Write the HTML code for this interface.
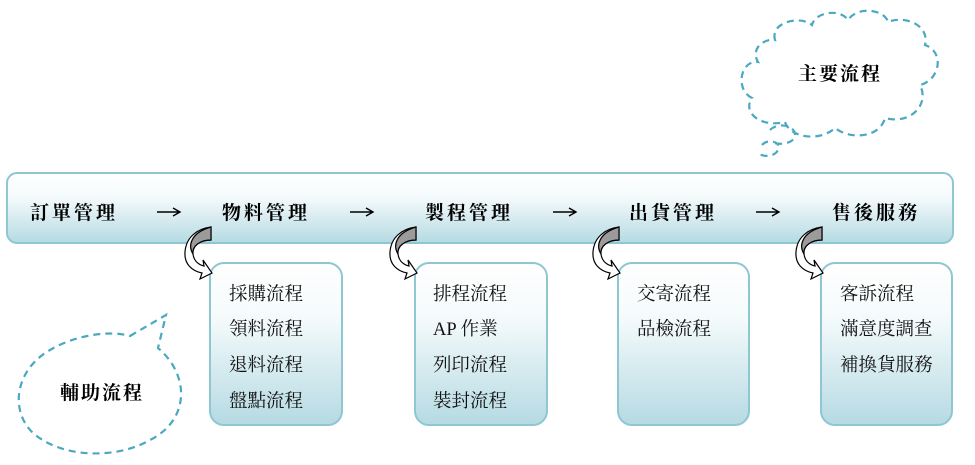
<!DOCTYPE html>
<html><head><meta charset="utf-8"><style>
body{margin:0;background:#fff;width:975px;height:465px;overflow:hidden}
svg{display:block}
text{font-family:"Liberation Serif","Noto Serif CJK TC","Noto Serif CJK SC",serif}
.m{font-size:19px;font-weight:bold;fill:#000}
.s{font-size:18.5px;fill:#111}
</style></head><body>
<svg width="975" height="465" viewBox="0 0 975 465">
<defs>
<linearGradient id="g" x1="0" y1="0" x2="0" y2="1">
<stop offset="0" stop-color="#ffffff"/><stop offset="0.35" stop-color="#f4fafb"/><stop offset="1" stop-color="#b5dae3"/>
</linearGradient>
<g id="ar"><path d="M0,0 H22 M16,-4 L23,0 L16,4" fill="none" stroke="#000" stroke-width="1.4"/></g>
</defs>
<rect x="7" y="173" width="946" height="70" rx="10" fill="url(#g)" stroke="#8ec6d2" stroke-width="2"/>
<text x="74" y="219" text-anchor="middle" class="m" letter-spacing="3">訂單管理</text>
<use href="#ar" x="157" y="212"/>
<text x="266" y="219" text-anchor="middle" class="m" letter-spacing="3">物料管理</text>
<use href="#ar" x="350" y="212"/>
<text x="469" y="219" text-anchor="middle" class="m" letter-spacing="3">製程管理</text>
<use href="#ar" x="553" y="212"/>
<text x="673" y="219" text-anchor="middle" class="m" letter-spacing="3">出貨管理</text>
<use href="#ar" x="756" y="212"/>
<text x="876" y="219" text-anchor="middle" class="m" letter-spacing="3">售後服務</text>
<g>
<rect x="210" y="263" width="132" height="162" rx="14" fill="url(#g)" stroke="#8ec6d2" stroke-width="2"/>
<rect x="415" y="263" width="132" height="162" rx="14" fill="url(#g)" stroke="#8ec6d2" stroke-width="2"/>
<rect x="618" y="263" width="131" height="162" rx="14" fill="url(#g)" stroke="#8ec6d2" stroke-width="2"/>
<rect x="821" y="263" width="131" height="162" rx="14" fill="url(#g)" stroke="#8ec6d2" stroke-width="2"/>
</g>
<text x="229" y="300" class="s">採購流程</text><text x="229" y="335" class="s">領料流程</text><text x="229" y="371" class="s">退料流程</text><text x="229" y="407" class="s">盤點流程</text>
<text x="433" y="300" class="s">排程流程</text><text x="433" y="335" class="s">AP 作業</text><text x="433" y="371" class="s">列印流程</text><text x="433" y="407" class="s">裝封流程</text>
<text x="637" y="300" class="s">交寄流程</text><text x="637" y="335" class="s">品檢流程</text>
<text x="840" y="300" class="s">客訴流程</text><text x="840" y="335" class="s">滿意度調查</text><text x="840" y="371" class="s">補換貨服務</text>
<g id="ca">
<path d="M211,227 L211,240 C200,240 192,246 193,254 C194,262 200,265 204,266 L203,260 L212,273 L200,279 L202,273 C192,271 184,264 185,252 C186,238 196,229 211,227 Z" fill="#fff" stroke="#000" stroke-width="1.2"/>
<path d="M211,227 L211,240 C200,240 192,246 193,254 C188,246 190,233 211,227 Z" fill="#9b9b9b" stroke="#000" stroke-width="1.2"/>
</g>
<use href="#ca" x="205"/><use href="#ca" x="408"/><use href="#ca" x="611"/>
<g fill="none" stroke="#4aa8c0" stroke-width="2.2" stroke-dasharray="7,5">
<path d="M775,40 C770,22 800,15 812,25 C815,12 840,8 848,20 C858,5 885,10 888,22 C905,15 930,25 925,45 C945,52 940,80 920,85 C930,105 910,125 885,118 C880,138 850,140 835,128 C820,142 790,138 785,122 C760,128 742,112 752,98 C735,90 740,60 758,62 C750,48 765,38 775,40 Z"/>
<path d="M770,130 C778,122 795,125 795,135 C795,143 780,146 772,142"/>
<path d="M762,145 C768,138 782,142 778,150 C774,158 760,157 758,152"/>
<path d="M130,336 L166,315 L158,348 C190,375 190,420 150,440 C115,460 60,458 32,432 C10,410 15,370 50,350 C75,335 110,330 130,336 Z"/>
</g>
<text x="840" y="80" text-anchor="middle" class="m" letter-spacing="2">主要流程</text>
<text x="102" y="399" text-anchor="middle" class="m" letter-spacing="2">輔助流程</text>
</svg>
</body></html>
